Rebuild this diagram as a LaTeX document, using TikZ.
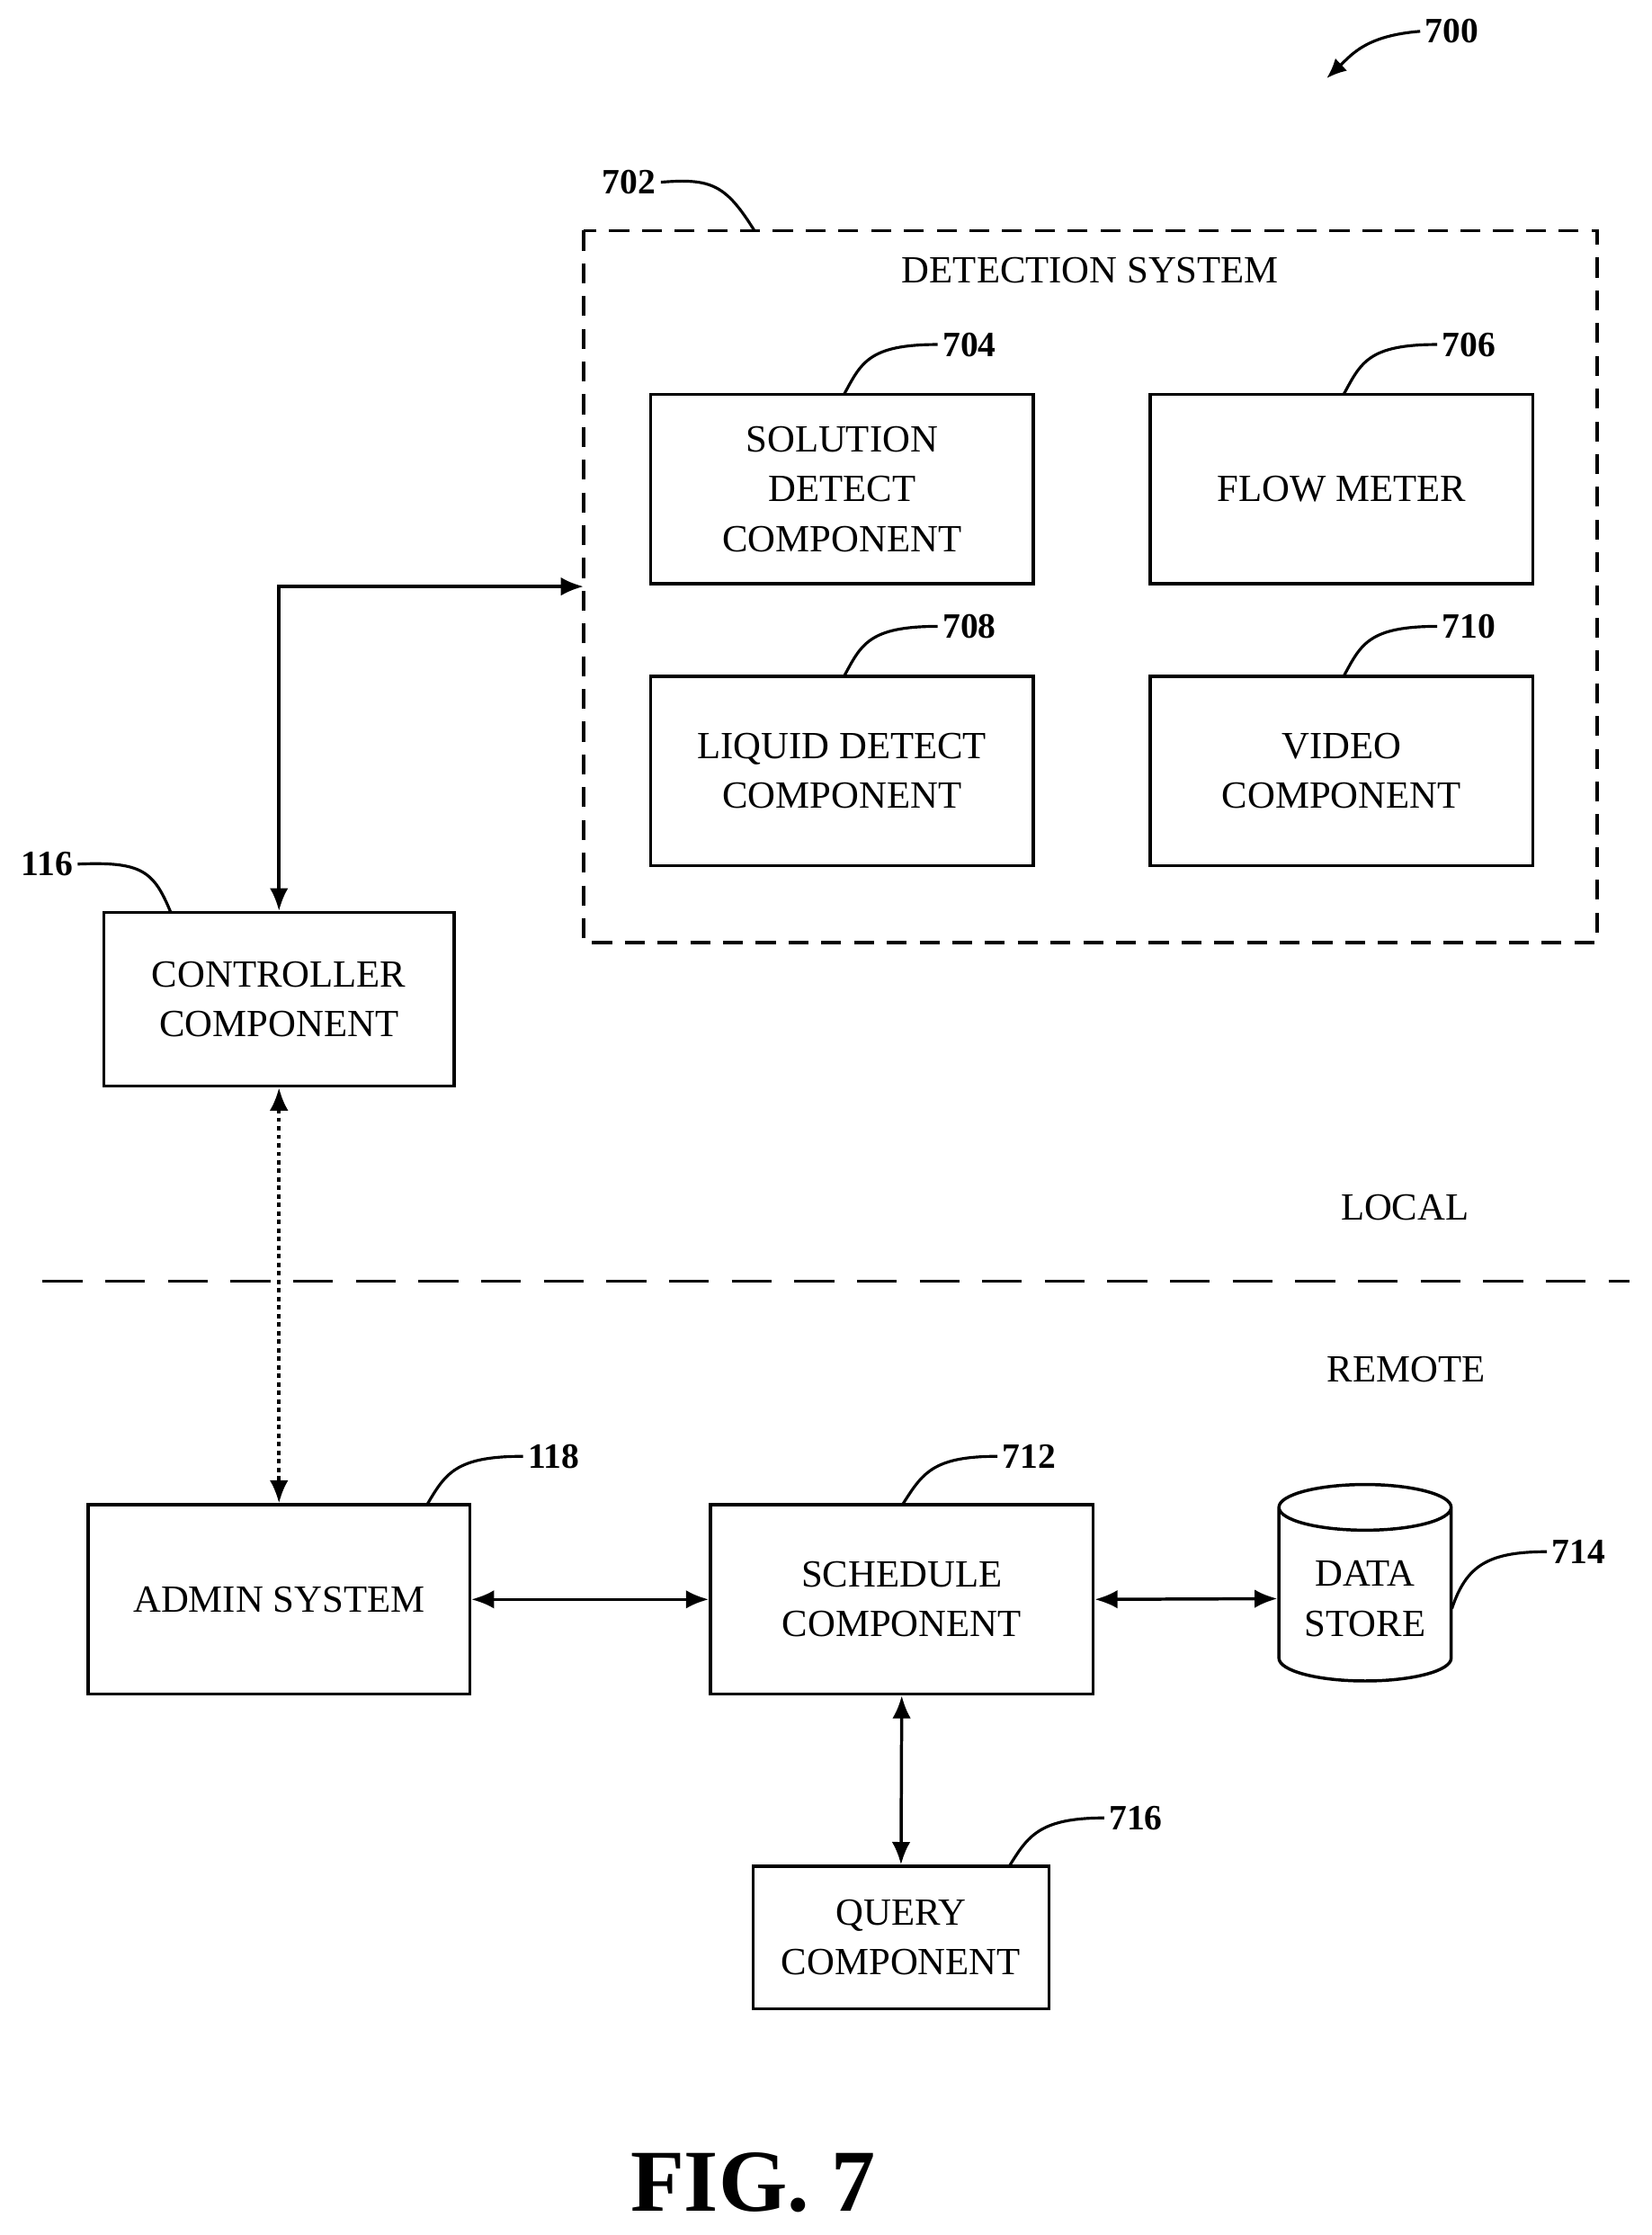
\documentclass[tikz,border=0pt]{standalone}
\usepackage{fontspec}
\setmainfont{Liberation Serif}
\usetikzlibrary{arrows.meta,shapes.geometric}
\begin{document}
\begin{tikzpicture}[x=1pt,y=-1pt,
  box/.style={draw,line width=2.2pt,align=center,font=\fontsize{27}{35}\selectfont},
  lbl/.style={font=\fontsize{25}{30}\selectfont\bfseries},
  lead/.style={line width=2pt},
  arr/.style={line width=2.2pt,{Latex[length=16pt,width=13pt]}-{Latex[length=16pt,width=13pt]}},
  txt/.style={font=\fontsize{27}{35}\selectfont}]
\useasboundingbox (0,0) rectangle (1160,1570);
\draw[line width=2.2pt,dash pattern=on 14pt off 9pt] (410,162) rectangle (1122,662);
\node[txt] (ds) at (766,190) {DETECTION SYSTEM};
\node[box,minimum width=269,minimum height=133] (b704) at (591.5,343.5) {SOLUTION\\DETECT\\COMPONENT};
\node[box,minimum width=269,minimum height=133] (b706) at (942.5,343.5) {FLOW METER};
\node[box,minimum width=269,minimum height=133] (b708) at (591.5,541.5) {LIQUID DETECT\\COMPONENT};
\node[box,minimum width=269,minimum height=133] (b710) at (942.5,541.5) {VIDEO\\COMPONENT};
\node[box,minimum width=246,minimum height=122] (ctl) at (196,702) {CONTROLLER\\COMPONENT};
\node[box,minimum width=268,minimum height=133] (adm) at (196,1123.5) {ADMIN SYSTEM};
\node[box,minimum width=269,minimum height=133] (sch) at (633.5,1123.5) {SCHEDULE\\COMPONENT};
\node[box,minimum width=208,minimum height=100] (qry) at (633,1361) {QUERY\\COMPONENT};
\node[draw,line width=2.2pt,cylinder,shape border rotate=90,aspect=0.35,minimum width=121,minimum height=138,align=center,font=\fontsize{27}{35}\selectfont] (dst) at (959,1123) {DATA\\STORE};
% labels
\node[lbl] (l700) at (1020,22) {700};
\node[lbl] (l702) at (442,128) {702};
\node[lbl] (l704) at (681,242) {704};
\node[lbl] (l706) at (1032,242) {706};
\node[lbl] (l708) at (681,440) {708};
\node[lbl] (l710) at (1032,440) {710};
\node[lbl] (l116) at (33,607) {116};
\node[lbl] (l118) at (389,1023) {118};
\node[lbl] (l712) at (723,1023) {712};
\node[lbl] (l714) at (1109,1090) {714};
\node[lbl] (l716) at (798,1277) {716};
\node[txt] (loc) at (987,848) {LOCAL};
\node[txt] (rem) at (988,962) {REMOTE};
\node[font=\fontsize{62}{70}\selectfont\bfseries] (fig) at (529,1533) {FIG. 7};
% leaders
\draw[lead,-{Latex[length=14pt,width=12pt]}] (l700.west) .. controls (960,25) and (950,38) .. (932,55);
\draw[lead] (l702.east) .. controls (500,125) and (510,130) .. (530,162);
\draw[lead] (l704.west) .. controls (610,242) and (605,255) .. (593,277);
\draw[lead] (l706.west) .. controls (961,242) and (956,255) .. (944,277);
\draw[lead] (l708.west) .. controls (610,440) and (605,453) .. (593,475);
\draw[lead] (l710.west) .. controls (961,440) and (956,453) .. (944,475);
\draw[lead] (l116.east) .. controls (100,605) and (108,612) .. (120,641);
\draw[lead] (l118.west) .. controls (320,1023) and (313,1035) .. (300,1057);
\draw[lead] (l712.west) .. controls (655,1023) and (648,1035) .. (634,1057);
\draw[lead] (l716.west) .. controls (730,1277) and (722,1290) .. (709,1311);
\draw[lead] (l714.west) .. controls (1045,1090) and (1030,1100) .. (1020,1130);
% connectors
\coordinate (c1) at (196,412);
\coordinate (c2) at (410,412);
\draw[arr] (ctl.north) -- (c1) -- (c2);
\draw[arr,dash pattern=on 3pt off 3pt] (ctl.south) -- (adm.north);
\draw[line width=2.2pt,dash pattern=on 28pt off 16pt] (30,900) -- (1145,900);
\draw[arr] (adm.east) -- (sch.west);
\draw[arr] (sch.east) -- (dst.west);
\draw[arr] (sch.south) -- (qry.north);
\end{tikzpicture}
\end{document}
